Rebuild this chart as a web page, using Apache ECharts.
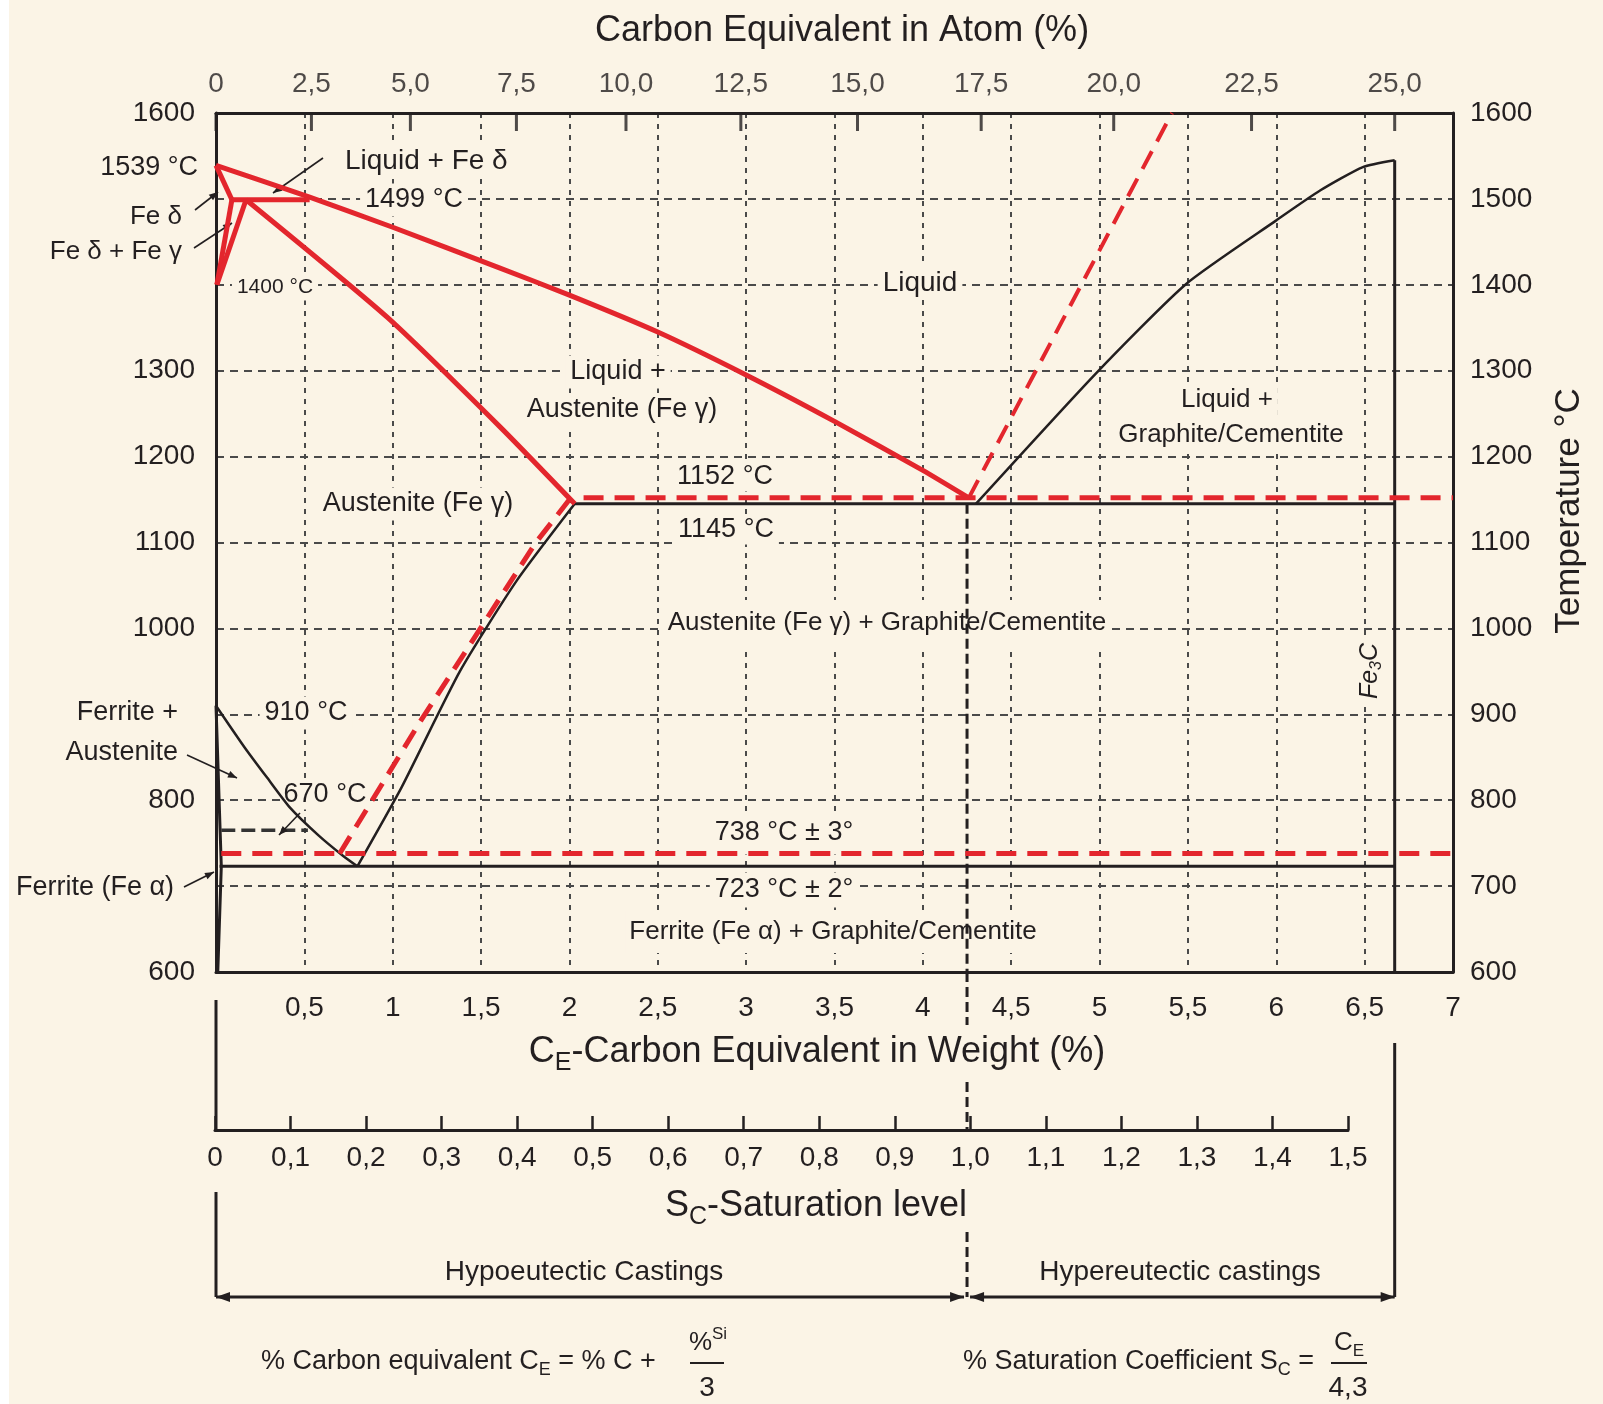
<!DOCTYPE html>
<html><head><meta charset="utf-8">
<script src="https://cdn.jsdelivr.net/npm/echarts@6.0.0/dist/echarts.min.js"></script>
<style>html,body{margin:0;padding:0;background:#fbf4e6;}#c{width:1603px;height:1404px;}</style>
</head><body><div id="c"></div>
<script>
// ---------- data (wt % C, temperature °C) ----------
const atomTickWt = [0, 0.54, 1.10, 1.70, 2.32, 2.97, 3.63, 4.33, 5.08, 5.86, 6.67];
const atomTickLabels = ['0','2,5','5,0','7,5','10,0','12,5','15,0','17,5','20,0','22,5','25,0'];
const leftTempLabels = [1600, 1300, 1200, 1100, 1000, 800, 600];

// red solid (liquidus / solidus / delta region)
const liquidus = [[0,1539],[0.53,1502],[1.0,1467],[1.6,1420],[2.0,1388],[2.5,1345],[3.0,1295],[3.5,1241],[4.0,1184],[4.26,1152]];
const deltaSolidus = [[0,1539],[0.09,1499]];
const peritectic = [[0.09,1499],[0.53,1499]];
const deltaBoundary = [[0.09,1499],[0.005,1400]];
const gammaBoundary = [[0.17,1499],[0.005,1400]];
const austeniteSolidus = [[0.17,1499],[0.97,1362],[1.61,1234],[2.03,1145]];

// red dashed (stable Fe-graphite system)
const stableEutectoid = [[0.03,738],[7,738]];
const stableEutectic = [[2.08,1152],[7,1152]];
const stableAcm = [[0.70,738],[1.16,893],[1.49,998],[1.81,1100],[2.0,1150]];
const stableLiquidus = [[4.26,1152],[5.41,1600]];

// black (metastable Fe-Fe3C system)
const metaEutectoid = [[0.02,723],[6.67,723]];
const metaEutectic = [[2.03,1145],[6.67,1145]];
const acmLine = [[0.80,723],[1.05,815],[1.38,950],[1.70,1055],[2.03,1145]];
const a3Line = [[0,910],[0.16,862],[0.29,826],[0.42,791],[0.58,759],[0.72,735],[0.80,723]];
const ferriteLine = [[0.01,600],[0.03,723],[0,910]];
const cementiteLiquidus = [[4.30,1145],[4.98,1297],[5.49,1401],[6.0,1475],[6.25,1510],[6.49,1537],[6.67,1545]];
const fe3cLine = [[6.67,600],[6.67,1545]];
const curieLine = [[0.03,765],[0.52,765]];
const eutecticWt = 4.25;
const eutecticMarker = [[eutecticWt,1145],[eutecticWt,600]];
const fe3cWt = 6.67;

// ---------- styling ----------
const FONT = '"Liberation Sans", Arial, sans-serif';
const INK = '#231f20';
const RED = '#e3262d';
const BG = '#fbf4e6';
const GRID = '#4a4a4a';

const chart = echarts.init(document.getElementById('c'), null, {renderer:'canvas'});

function fmtNum(v){ return String(+v.toFixed(2)).replace('.', ','); }
function ls(data, color, width, type, z, smooth){
  return {type:'line', xAxisIndex:0, yAxisIndex:0, data, symbol:'none', smooth: smooth||false,
    lineStyle:{color, width, type: type||'solid', cap:'butt'}, z: z, silent:true, animation:false};
}
const axisLineStyle = {show:true, onZero:false, lineStyle:{color:INK, width:3}};
const labelBase = {color:INK, fontFamily:FONT, fontSize:28};

const option = {
  backgroundColor: BG,
  animation: false,
  grid: [
    {left:216, top:113, width:1237, height:859},
    {left:215, top:1129, width:1133, height:1}
  ],
  xAxis: [
    {gridIndex:0, type:'value', min:0, max:7, interval:0.5, position:'bottom',
     axisLine: axisLineStyle, axisTick:{show:false},
     axisLabel: Object.assign({margin:22, showMinLabel:true, showMaxLabel:true, formatter: v => v===0 ? '' : fmtNum(v)}, labelBase),
     splitLine:{show:true, lineStyle:{color:GRID, width:2, type:[5,6]}}},
    {gridIndex:0, type:'value', min:0, max:7, position:'top',
     axisLine: axisLineStyle, axisTick:{show:false}, axisLabel:{show:false}, splitLine:{show:false}},
    {gridIndex:1, type:'value', min:0, max:1.5, interval:0.1, position:'bottom',
     axisLine: axisLineStyle, axisTick:{show:true, inside:true, length:14, lineStyle:{color:INK, width:2.5}},
     axisLabel: Object.assign({margin:14, showMinLabel:true, showMaxLabel:true, formatter: v => v===0 ? '0' : v.toFixed(1).replace('.', ',')}, labelBase),
     splitLine:{show:false}}
  ],
  yAxis: [
    {gridIndex:0, type:'value', min:600, max:1600, interval:100, position:'left',
     axisLine: axisLineStyle, axisTick:{show:false},
     axisLabel: Object.assign({margin:21, showMinLabel:true, showMaxLabel:true, formatter: v => leftTempLabels.includes(v) ? String(v) : ''}, labelBase),
     splitLine:{show:true, lineStyle:{color:GRID, width:2, type:[8,6]}}},
    {gridIndex:0, type:'value', min:600, max:1600, interval:100, position:'right',
     axisLine: axisLineStyle, axisTick:{show:false},
     axisLabel: Object.assign({margin:17, showMinLabel:true, showMaxLabel:true, formatter: v => String(v)}, labelBase),
     splitLine:{show:false}},
    {gridIndex:1, type:'value', show:false, min:0, max:1}
  ],
  series: [
    // black metastable lines
    ls(metaEutectoid, INK, 3, 'solid', 3),
    ls(metaEutectic, INK, 3, 'solid', 3),
    ls(acmLine, INK, 2.5, 'solid', 3, 0.2),
    ls(a3Line, INK, 2.5, 'solid', 3, 0.2),
    ls(ferriteLine, INK, 3, 'solid', 3),
    ls(cementiteLiquidus, INK, 2.5, 'solid', 3, 0.2),
    ls(fe3cLine, INK, 3, 'solid', 3),
    ls(curieLine, '#333333', 3.5, [14,6], 3),
    ls(eutecticMarker, INK, 3, [10,5], 3),
    // red dashed stable system
    ls(stableEutectoid, RED, 5, [20,11], 4),
    ls(stableEutectic, RED, 5, [20,11], 4),
    ls(stableAcm, RED, 5, [20,11], 4),
    ls(stableLiquidus, RED, 4, [20,11], 4),
    // red solid
    ls(liquidus, RED, 5, 'solid', 5, 0.2),
    ls(deltaSolidus, RED, 5, 'solid', 5),
    ls(peritectic, RED, 5, 'solid', 5),
    ls(deltaBoundary, RED, 5, 'solid', 5),
    ls(gammaBoundary, RED, 5, 'solid', 5),
    ls(austeniteSolidus, RED, 5, 'solid', 5, 0.2),
    // top atom-% ticks and labels
    {type:'scatter', xAxisIndex:1, yAxisIndex:0, clip:false, silent:true, z:6,
     data: atomTickWt.map(w => [w, 1600]), symbol:'rect', symbolSize:[3,18], symbolOffset:[0,9],
     itemStyle:{color:INK},
     label: Object.assign({show:true, position:'top', distance:15, formatter: p => atomTickLabels[p.dataIndex]}, labelBase)}
  ]
};
chart.setOption(option);

// ---------- annotations ----------
function txt(x, y, text, size, o){
  o = o || {};
  const st = {text, fill: INK, font: (o.italic ? 'italic ' : '') + size + 'px ' + FONT,
    align: o.align || 'center', verticalAlign: 'middle'};
  if (o.bg) { st.backgroundColor = BG; st.padding = o.pad || [3,5]; }
  if (o.rich) st.rich = o.rich;
  return {type:'text', x, y, z: o.z || 1, rotation: o.rot || 0, silent:true, style: st};
}
function seg(x1,y1,x2,y2,w,dash,z){
  return {type:'line', z: z||4, silent:true, shape:{x1,y1,x2,y2}, style:{stroke:INK, lineWidth:w||1.5, lineDash: dash||null}};
}
function head(x1,y1,x2,y2,len,hw,z){
  const a = Math.atan2(y2-y1, x2-x1), c = Math.cos(a), s = Math.sin(a);
  const bx = x2 - len*c, by = y2 - len*s;
  return {type:'polygon', z: z||4, silent:true, shape:{points:[[x2,y2],[bx + hw*s, by - hw*c],[bx - hw*s, by + hw*c]]}, style:{fill:INK}};
}
function arrow(x1,y1,x2,y2){ return [seg(x1,y1,x2,y2,1.6), head(x1,y1,x2,y2,9,3.5)]; }

const X = v => chart.convertToPixel({xAxisIndex:0}, v);
const x0 = X(0), xe = X(eutecticWt), xf = X(fe3cWt);

const sub = (fs) => ({fontSize:fs, fontFamily:FONT, fill:INK, verticalAlign:'bottom', lineHeight:Math.round(fs*1.05)});
const sup = (fs) => ({fontSize:fs, fontFamily:FONT, fill:INK, verticalAlign:'top', lineHeight:Math.round(fs*1.05)});
const main = (fs) => ({fontSize:fs, fontFamily:FONT, fill:INK, lineHeight:Math.round(fs*1.3)});

const g = [
  {type:'rect', z:0, silent:true, shape:{x:0,y:0,width:9,height:1404}, style:{fill:'#ffffff'}},
  txt(842, 31, 'Carbon Equivalent in Atom (%)', 36),
  txt(198, 168, '1539 °C', 27, {align:'right'}),
  txt(340, 161, 'Liquid + Fe δ', 28, {align:'left', bg:true}),
  txt(414, 200, '1499 °C', 27, {bg:true}),
  txt(182, 217, 'Fe δ', 26, {align:'right'}),
  txt(182, 252, 'Fe δ + Fe γ', 26, {align:'right'}),
  txt(275, 287, '1400 °C', 21, {bg:true}),
  txt(920, 283, 'Liquid', 28, {bg:true}),
  txt(618, 372, 'Liquid +', 27, {bg:true}),
  txt(622, 410, 'Austenite (Fe γ)', 27, {bg:true}),
  txt(1227, 400, 'Liquid +', 26, {bg:true}),
  txt(1231, 435, 'Graphite/Cementite', 26, {bg:true}),
  txt(725, 477, '1152 °C', 27, {bg:true, pad:[1,5]}),
  txt(418, 504, 'Austenite (Fe γ)', 27, {bg:true}),
  txt(726, 530, '1145 °C', 27, {bg:true, pad:[1,5]}),
  txt(887, 623, 'Austenite (Fe γ) + Graphite/Cementite', 26, {bg:true, pad:[10,4]}),
  txt(1370, 671, '{i|Fe}{s|3}{i|C}', 25, {rot:Math.PI/2, bg:true, pad:[2,8],
      rich:{i:{fontSize:25, fontFamily:FONT, fontStyle:'italic', fill:INK, lineHeight:30}, s:Object.assign(sub(16), {fontStyle:'italic'})}}),
  txt(178, 713, 'Ferrite +', 27, {align:'right'}),
  txt(178, 753, 'Austenite', 27, {align:'right'}),
  txt(306, 713, '910 °C', 27, {bg:true}),
  txt(325, 795, '670 °C', 27, {bg:true, pad:[1,3]}),
  txt(174, 888, 'Ferrite (Fe α)', 27, {align:'right'}),
  txt(784, 833, '738 °C ± 3°', 27, {bg:true, pad:[8,5]}),
  txt(784, 890, '723 °C ± 2°', 27, {bg:true, pad:[4,5]}),
  txt(833, 932, 'Ferrite (Fe α) + Graphite/Cementite', 26, {bg:true, pad:[8,4]}),
  txt(1569, 511, 'Temperature °C', 35, {rot:Math.PI/2}),
  txt(817, 1052, '{a|C}{s|E}{a|-Carbon Equivalent in Weight (%)}', 36, {rich:{a:main(36), s:sub(25)}}),
  txt(816, 1206, '{a|S}{s|C}{a|-Saturation level}', 36, {rich:{a:main(36), s:sub(25)}}),
  txt(584, 1272, 'Hypoeutectic Castings', 28),
  txt(1180, 1272, 'Hypereutectic castings', 28),
  txt(261, 1362, '{a|% Carbon equivalent C}{s|E}{a| = % C +}', 27, {align:'left', rich:{a:main(27), s:sub(18)}}),
  txt(708, 1343, '{a|%}{s|Si}', 26, {rich:{a:main(26), s:sup(17)}}),
  seg(690, 1363, 724, 1363, 2, null, 2),
  txt(707, 1388, '3', 28),
  txt(963, 1362, '{a|% Saturation Coefficient S}{s|C}{a| =}', 27, {align:'left', rich:{a:main(27), s:sub(18)}}),
  txt(1349, 1343, '{a|C}{s|E}', 26, {rich:{a:main(26), s:sub(17)}}),
  seg(1331, 1363, 1367, 1363, 2, null, 2),
  txt(1348, 1388, '4,3', 28),
  // leader arrows
  ...arrow(323, 158, 273, 193),
  ...arrow(195, 210, 218, 192),
  ...arrow(194, 248, 232, 223),
  ...arrow(187, 755, 237, 778),
  ...arrow(300, 813, 279, 835),
  ...arrow(184, 887, 214, 872),
  // lower brackets
  seg(x0, 1000, x0, 1131, 3),
  seg(x0, 1192, x0, 1297, 3),
  seg(xe, 972, xe, 1025, 3, [10,5]),
  seg(xe, 1082, xe, 1130, 3, [10,5]),
  seg(xe, 1232, xe, 1297, 3, [10,5]),
  seg(xf, 1043, xf, 1297, 3),
  seg(x0, 1297, xe - 3, 1297, 3),
  head(xe, 1297, x0, 1297, 14, 5),
  head(x0, 1297, xe - 3, 1297, 14, 5),
  seg(xe + 3, 1297, xf, 1297, 3),
  head(xf, 1297, xe + 3, 1297, 14, 5),
  head(xe + 3, 1297, xf, 1297, 14, 5)
];
chart.setOption({graphic: g});
</script></body></html>
